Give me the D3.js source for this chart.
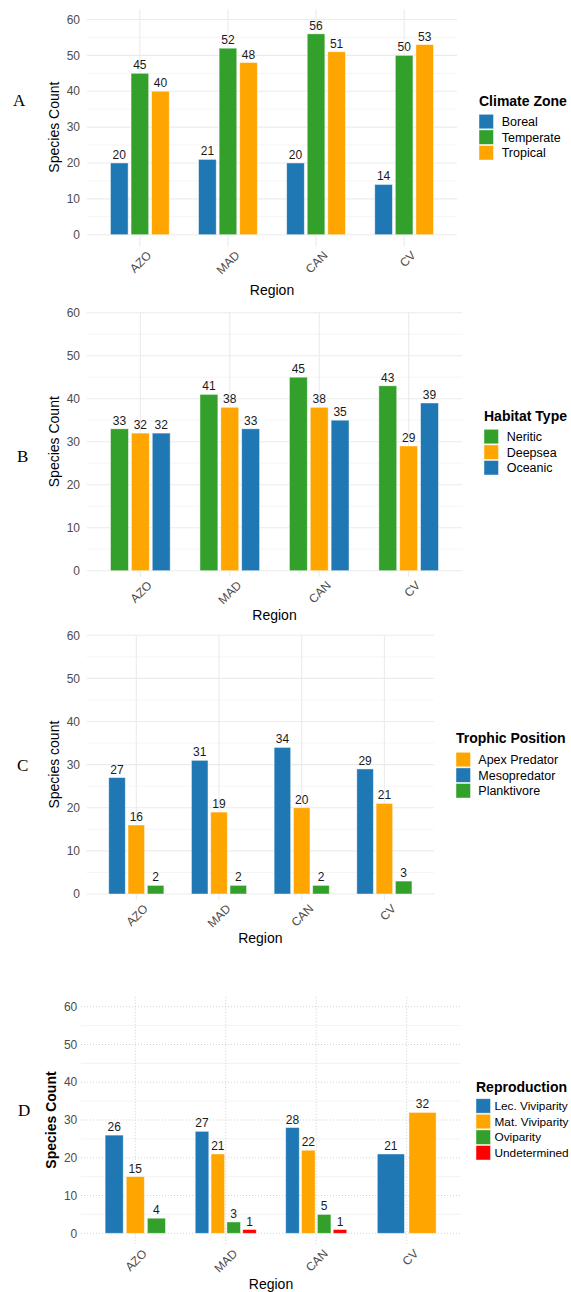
<!DOCTYPE html>
<html><head><meta charset="utf-8">
<script src="https://cdn.jsdelivr.net/npm/d3@7"></script>
<style>html,body{margin:0;padding:0;background:#fff;}svg{display:block;}</style>
</head><body>
<svg id="chart" width="571" height="1292"></svg>
<script>
// ---------- DATA ----------
const regions = ["AZO", "MAD", "CAN", "CV"];
const yTicks = [0, 10, 20, 30, 40, 50, 60];
const yMinor = [5, 15, 25, 35, 45, 55];

// Panel A
const climateZones = ["Boreal", "Temperate", "Tropical"];
const boreal = [20, 21, 20, 14];
const temperate = [45, 52, 56, 50];
const tropical = [40, 48, 51, 53];

// Panel B
const habitatTypes = ["Neritic", "Deepsea", "Oceanic"];
const neritic = [33, 41, 45, 43];
const deepsea = [32, 38, 38, 29];
const oceanic = [32, 33, 35, 39];

// Panel C
const trophicLegend = ["Apex Predator", "Mesopredator", "Planktivore"];
const mesopredator = [27, 31, 34, 29];
const apexPredator = [16, 19, 20, 21];
const planktivore = [2, 2, 2, 3];

// Panel D
const reproModes = ["Lec. Viviparity", "Mat. Viviparity", "Oviparity", "Undetermined"];
const lecViviparity = [26, 27, 28, 21];
const matViviparity = [15, 21, 22, 32];
const oviparity = [4, 3, 5, null];
const undetermined = [null, 1, 1, null];

const BLUE = "#1F78B4", GREEN = "#33A02C", ORANGE = "#FFA500", RED = "#FF0000";

const panels = [
  {
    letter: "A", letterPos: [13, 106],
    series: [
      {name: "Boreal", values: boreal, color: BLUE},
      {name: "Temperate", values: temperate, color: GREEN},
      {name: "Tropical", values: tropical, color: ORANGE}
    ],
    legendOrder: climateZones, legendTitle: "Climate Zone",
    ytitle: "Species Count", ytitleBold: false, ytitleX: 59,
    left: 87, right: 457, y0: 234.7, y60: 19.5, top: 9.3, bottom: 246.7,
    tickRight: 80, xlabY: 295,
    legX: 479, legLabelX: 501.7, legLabelSize: 12.5, legTitleY: 106, legKeyY: 114.3, dotted: false
  },
  {
    letter: "B", letterPos: [17, 462],
    series: [
      {name: "Neritic", values: neritic, color: GREEN},
      {name: "Deepsea", values: deepsea, color: ORANGE},
      {name: "Oceanic", values: oceanic, color: BLUE}
    ],
    legendOrder: habitatTypes, legendTitle: "Habitat Type",
    ytitle: "Species Count", ytitleBold: false, ytitleX: 59,
    left: 86.7, right: 462.3, y0: 570.7, y60: 312.7, top: 312.7, bottom: 576.7,
    tickRight: 80, xlabY: 620,
    legX: 484, legLabelX: 506.7, legLabelSize: 12.5, legTitleY: 420.5, legKeyY: 429.3, dotted: false
  },
  {
    letter: "C", letterPos: [17, 771],
    series: [
      {name: "Mesopredator", values: mesopredator, color: BLUE},
      {name: "Apex Predator", values: apexPredator, color: ORANGE},
      {name: "Planktivore", values: planktivore, color: GREEN}
    ],
    legendOrder: trophicLegend, legendTitle: "Trophic Position",
    ytitle: "Species count", ytitleBold: false, ytitleX: 59,
    left: 86.7, right: 434, y0: 894, y60: 635.3, top: 635.3, bottom: 900,
    tickRight: 80, xlabY: 943.3,
    legX: 456, legLabelX: 478.3, legLabelSize: 12.5, legTitleY: 742.5, legKeyY: 752.3, dotted: false
  },
  {
    letter: "D", letterPos: [18, 1116],
    series: [
      {name: "Lec. Viviparity", values: lecViviparity, color: BLUE},
      {name: "Mat. Viviparity", values: matViviparity, color: ORANGE},
      {name: "Oviparity", values: oviparity, color: GREEN},
      {name: "Undetermined", values: undetermined, color: RED}
    ],
    legendOrder: reproModes, legendTitle: "Reproduction",
    ytitle: "Species Count", ytitleBold: true, ytitleX: 55.5,
    left: 81, right: 461, y0: 1233.3, y60: 1006.7, top: 996.7, bottom: 1245,
    tickRight: 77.3, xlabY: 1289,
    legX: 476, legLabelX: 494.5, legLabelSize: 11.8, legTitleY: 1091.5, legKeyY: 1098.7, dotted: true
  }
];

const FONT = "'Liberation Sans', Arial, Helvetica, sans-serif";
const svg = d3.select("#chart");
svg.append("rect").attr("width", 571).attr("height", 1292).attr("fill", "#fff");

panels.forEach(p => {
  const g = svg.append("g");
  const x = d3.scaleBand().domain(regions).range([p.left, p.right]).paddingInner(0).paddingOuter(0.1);
  const y = d3.scaleLinear().domain([0, 60]).range([p.y0, p.y60]);
  const cx = r => x(r) + x.bandwidth() / 2;

  // minor gridlines
  g.selectAll(".minor").data(yMinor).join("line")
    .attr("x1", p.left).attr("x2", p.right)
    .attr("y1", d => y(d)).attr("y2", d => y(d))
    .attr("stroke", p.dotted ? "#f0f0f0" : "#f2f2f2").attr("stroke-width", 0.8);
  // major gridlines
  g.selectAll(".major").data(yTicks).join("line")
    .attr("x1", p.left).attr("x2", p.right)
    .attr("y1", d => y(d)).attr("y2", d => y(d))
    .attr("stroke", p.dotted ? "#d4d4d4" : "#ebebeb").attr("stroke-width", 1.1)
    .attr("stroke-dasharray", p.dotted ? "1,2" : null);
  // vertical gridlines
  g.selectAll(".vgrid").data(regions).join("line")
    .attr("x1", d => cx(d)).attr("x2", d => cx(d))
    .attr("y1", p.top).attr("y2", p.bottom)
    .attr("stroke", p.dotted ? "#d4d4d4" : "#ebebeb").attr("stroke-width", 1.1)
    .attr("stroke-dasharray", p.dotted ? "1,2" : null);

  // y tick labels
  g.selectAll(".ytl").data(yTicks).join("text")
    .attr("x", p.tickRight).attr("y", d => y(d)).attr("dy", "0.35em")
    .attr("text-anchor", "end").attr("font-family", FONT).attr("font-size", 12)
    .attr("fill", "#4d4d4d").text(d => d);

  // x tick labels (rotated)
  g.selectAll(".xtl").data(regions).join("text")
    .attr("transform", d => `translate(${cx(d) + 6},${p.bottom + 3}) rotate(-45)`)
    .attr("dy", "0.75em").attr("text-anchor", "end")
    .attr("font-family", FONT).attr("font-size", 12).attr("fill", "#4d4d4d")
    .text(d => d);

  // bars
  regions.forEach((r, i) => {
    const present = p.series.filter(s => s.values[i] !== null && s.values[i] !== undefined);
    const c = cx(r);
    const half = x.bandwidth() * 0.35;
    const sub = d3.scaleBand().domain(present.map(s => s.name))
      .range([c - half, c + half]).paddingInner(1 / 7).paddingOuter(1 / 14);
    present.forEach(s => {
      const v = s.values[i];
      g.append("rect")
        .attr("x", sub(s.name)).attr("width", sub.bandwidth())
        .attr("y", y(v)).attr("height", y(0) - y(v))
        .attr("fill", s.color).attr("stroke", "rgba(255,255,255,0.55)").attr("stroke-width", 0.8);
      g.append("text")
        .attr("x", sub(s.name) + sub.bandwidth() / 2).attr("y", y(v) - 4)
        .attr("text-anchor", "middle").attr("font-family", FONT).attr("font-size", 12)
        .attr("fill", "#1a1a1a").text(v);
    });
  });

  // axis titles
  g.append("text")
    .attr("x", (p.left + p.right) / 2).attr("y", p.xlabY)
    .attr("text-anchor", "middle").attr("font-family", FONT).attr("font-size", 14)
    .attr("fill", "#000").text("Region");
  g.append("text")
    .attr("transform", `translate(${p.ytitleX},${(p.y0 + p.y60) / 2}) rotate(-90)`)
    .attr("text-anchor", "middle").attr("font-family", FONT).attr("font-size", 14)
    .attr("font-weight", p.ytitleBold ? "bold" : "normal")
    .attr("fill", "#000").text(p.ytitle);

  // panel letter
  g.append("text")
    .attr("x", p.letterPos[0]).attr("y", p.letterPos[1])
    .attr("font-family", "'Liberation Serif', 'Times New Roman', serif").attr("font-size", 17)
    .attr("fill", "#000").text(p.letter);

  // legend
  const colorOf = name => p.series.find(s => s.name === name).color;
  g.append("text")
    .attr("x", p.legX).attr("y", p.legTitleY)
    .attr("font-family", FONT).attr("font-size", 14).attr("font-weight", "bold")
    .attr("fill", "#000").text(p.legendTitle);
  const step = 15.6;
  p.legendOrder.forEach((name, k) => {
    const ky = p.legKeyY + k * step;
    g.append("rect")
      .attr("x", p.legX).attr("y", ky).attr("width", 14.5).attr("height", 14.5)
      .attr("fill", colorOf(name)).attr("stroke", "rgba(255,255,255,0.55)").attr("stroke-width", 0.8);
    g.append("text")
      .attr("x", p.legLabelX).attr("y", ky + 7.25).attr("dy", "0.35em")
      .attr("font-family", FONT).attr("font-size", p.legLabelSize).attr("fill", "#000").text(name);
  });
});
</script>
</body></html>
